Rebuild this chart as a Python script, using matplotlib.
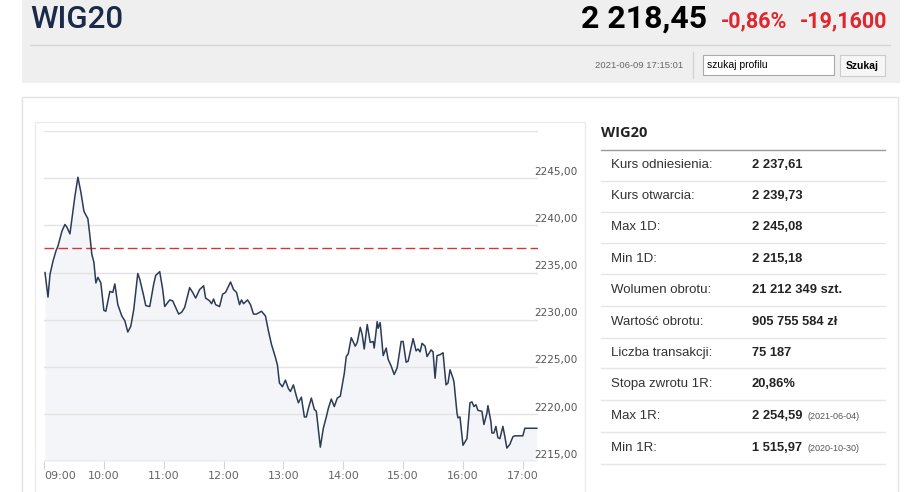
import matplotlib.pyplot as plt
from matplotlib.patches import Rectangle
from matplotlib.lines import Line2D

# dane z wykresu: minuty od 09:00 i kurs WIG20
minuty = [1, 4, 6, 9, 12, 14, 18, 21, 23, 26, 28, 31, 34, 37, 40, 44, 46, 48, 50, 52,
          54, 57, 60, 62, 66, 69, 71, 74, 78, 81, 84, 87, 90, 94, 96, 100, 102, 106, 110, 112,
          116, 119, 121, 126, 129, 132, 135, 138, 141, 146, 149, 152, 156, 160, 162, 166, 168, 170, 172, 176,
          179, 182, 187, 190, 193, 196, 198, 200, 204, 207, 210, 213, 218, 222, 225, 228, 232, 234, 236, 239,
          242, 245, 247, 250, 253, 255, 258, 261, 263, 265, 268, 271, 273, 277, 280, 283, 285, 288, 291, 294,
          297, 301, 303, 305, 308, 312, 314, 317, 319, 321, 324, 327, 330, 331, 334, 335, 337, 340, 343, 345,
          348, 351, 354, 358, 360, 363, 365, 370, 373, 375, 377, 379, 382, 384, 388, 390, 392, 394, 397, 400,
          403, 405, 407, 410, 411, 414, 415, 417, 420, 424, 427, 429, 431, 433, 435, 439, 441, 444, 445, 448,
          449, 451, 453, 455, 457, 460, 462, 464, 467, 470, 472, 480, 482, 494]
kurs = [2235.0, 2232.4, 2234.8, 2236.2, 2237.3, 2237.8, 2239.4, 2240.1, 2239.8, 2239.1,
        2240.7, 2243.1, 2245.1, 2243.5, 2241.5, 2240.7, 2238.9, 2236.9, 2236.1, 2233.9,
        2234.5, 2233.9, 2231.0, 2230.9, 2233.0, 2232.9, 2233.8, 2231.6, 2230.4, 2229.9,
        2228.7, 2229.3, 2231.1, 2234.9, 2234.3, 2232.5, 2231.5, 2231.4, 2233.8, 2234.7,
        2235.1, 2233.2, 2231.4, 2232.1, 2232.0, 2231.3, 2230.6, 2230.8, 2231.3, 2233.4,
        2232.9, 2232.3, 2233.2, 2233.6, 2232.3, 2232.0, 2231.7, 2232.2, 2231.6, 2231.4,
        2232.7, 2232.9, 2234.0, 2233.2, 2232.9, 2231.6, 2232.1, 2231.7, 2232.1, 2231.6,
        2230.6, 2230.6, 2230.9, 2230.4, 2228.8, 2227.4, 2226.0, 2225.2, 2223.3, 2222.9,
        2223.6, 2222.7, 2222.4, 2223.1, 2221.9, 2221.2, 2221.8, 2219.7, 2219.7, 2220.6,
        2221.7, 2220.5, 2220.3, 2216.5, 2218.5, 2219.7, 2220.6, 2221.6, 2220.8, 2221.7,
        2221.9, 2224.3, 2226.1, 2226.4, 2228.1, 2227.2, 2227.6, 2229.2, 2228.4, 2226.9,
        2229.5, 2227.6, 2227.7, 2227.0, 2229.8, 2229.1, 2229.7, 2226.2, 2227.0, 2225.8,
        2225.1, 2224.2, 2224.9, 2227.7, 2227.7, 2225.5, 2225.6, 2228.0, 2226.7, 2226.9,
        2226.6, 2227.5, 2227.2, 2226.1, 2226.8, 2226.6, 2223.8, 2226.2, 2226.3, 2226.5,
        2223.1, 2223.3, 2224.7, 2223.8, 2223.4, 2220.1, 2219.6, 2219.7, 2216.7, 2217.4,
        2221.2, 2221.3, 2220.8, 2221.0, 2220.4, 2220.3, 2218.9, 2220.1, 2220.9, 2219.2,
        2218.0, 2218.0, 2218.7, 2217.5, 2217.4, 2218.7, 2217.6, 2216.4, 2216.8, 2217.6,
        2217.7, 2217.7, 2218.5, 2218.5]
kurs_odniesienia = 2237.61

godziny = ["09:00", "10:00", "11:00", "12:00", "13:00", "14:00", "15:00", "16:00", "17:00"]
poziomy = [2215, 2220, 2225, 2230, 2235, 2240, 2245, 2250]

etykiety = ["Kurs odniesienia:", "Kurs otwarcia:", "Max 1D:", "Min 1D:", "Wolumen obrotu:",
            "Wartość obrotu:", "Liczba transakcji:", "Stopa zwrotu 1R:", "Max 1R:", "Min 1R:"]
wartosci = ["2 237,61", "2 239,73", "2 245,08", "2 215,18", "21 212 349 szt.",
            "905 755 584 zł", "75 187", "20,86%", "2 254,59", "1 515,97"]
daty = ["", "", "", "", "", "", "", "", "(2021-06-04)", "(2020-10-30)"]

W, H = 918, 492
plt.rcParams['font.family'] = ['Liberation Sans', 'DejaVu Sans']
fig = plt.figure(figsize=(W / 100, H / 100), dpi=100)


def fx(x):
    return x / W


def fy(y):
    return 1 - y / H


def prostokat(x0, y0, x1, y1, **kw):
    fig.patches.append(Rectangle((fx(x0), fy(y1)), fx(x1 - x0), (y1 - y0) / H,
                                 transform=fig.transFigure, **kw))


def linia(x0, y0, x1, y1, color, lw=1):
    fig.lines.append(Line2D([fx(x0), fx(x1)], [fy(y0), fy(y1)], transform=fig.transFigure,
                            color=color, lw=lw))


# naglowek
prostokat(22, 0, 900, 83, facecolor='#efefef', edgecolor='none')
linia(30, 44.5, 890, 44.5, '#d6d6d6')
fig.text(fx(30), fy(19), "WIG20", family='Roboto', fontsize=22.5, weight='medium',
         color='#1b2a48', va='center')
fig.text(fx(707), fy(18.5), "2 218,45", family='Roboto', fontsize=23, weight='bold',
         color='black', va='center', ha='right')
fig.text(fx(721), fy(21), "-0,86%", family='Roboto', fontsize=15.5, weight='bold',
         color='#e0252d', va='center')
fig.text(fx(800), fy(21), "-19,1600", family='Roboto', fontsize=15.5, weight='bold',
         color='#e0252d', va='center')
fig.text(fx(683), fy(66), "2021-06-09 17:15:01", fontsize=6.8, color='#666666', va='center', ha='right')
linia(693, 52, 693, 78, '#d5d5d5')
prostokat(703, 55, 834, 75, facecolor='white', edgecolor='#a9a9a9', lw=0.8)
fig.text(fx(707), fy(64.5), "szukaj profilu", fontsize=7.5, color='black', va='center')
prostokat(840, 55, 885, 76, facecolor='#f6f6f6', edgecolor='#cccccc', lw=0.8)
fig.text(fx(862.5), fy(66), "Szukaj", fontsize=7.5, weight='bold', color='black',
         va='center', ha='center')

# ramki
prostokat(22, 97, 898, 520, facecolor='none', edgecolor='#e3e3e3', lw=1)
prostokat(35, 122, 585, 520, facecolor='none', edgecolor='#ebebeb', lw=1)

# wykres
ax = fig.add_axes([fx(44), fy(461.3), fx(538 - 44), (461.3 - 131) / H])
ax.set_xlim(0, 495.2)
ax.set_ylim(2215, 2250)
ax.fill_between(minuty, kurs, 2215, color='#f3f5f8', lw=0)
for p in poziomy:
    ax.axhline(p, color='#e3e3e3', lw=1, zorder=1)
ax.axhline(kurs_odniesienia, color='#d8333a', lw=1, dashes=(7, 3), zorder=2)
ax.plot(minuty, kurs, color='#2d3b56', lw=1.1, zorder=3)
ax.axhline(2215, color='#ccd6eb', lw=1, zorder=2)
for s in ax.spines.values():
    s.set_visible(False)
ax.set_xticks([i * 60 for i in range(len(godziny))])
ax.set_xticklabels(godziny, fontsize=8, color='#666666', family='DejaVu Sans')
ax.tick_params(axis='x', length=6, color='#ccd6eb', pad=1)
ax.get_xticklabels()[0].set_horizontalalignment('left')
ax.set_yticks([])
ax.set_facecolor('none')
for p in poziomy[:-1]:
    ax.annotate(f"{p},00", xy=(1, p), xycoords=('axes fraction', 'data'), xytext=(-4, 1.5),
                textcoords='offset pixels', ha='left', va='bottom', fontsize=7.6,
                color='#555555', family='DejaVu Sans', annotation_clip=False)

# tabela
fig.text(fx(601), fy(133), "WIG20", fontsize=10.5, weight='bold', color='#222222', va='center',
         family='Open Sans')
linia(601, 149.5, 885, 149.5, '#9a9a9a')
sep = [149.5, 180.7, 211.7, 243.3, 274.3, 306, 337.7, 368.3, 400, 431.7, 464]
for i, (e, w, d) in enumerate(zip(etykiety, wartosci, daty)):
    yc = (sep[i] + sep[i + 1]) / 2
    fig.text(fx(611), fy(yc), e, fontsize=9.5, color='#333333', va='center')
    fig.text(fx(752), fy(yc), w, fontsize=9.3, weight='bold', color='#222222', va='center')
    if d:
        fig.text(fx(808), fy(yc + 1), d, fontsize=6.5, color='#555555', va='center')
    linia(601, sep[i + 1], 885, sep[i + 1], '#e6e6e6')

fig.savefig("out.png", dpi=100)
